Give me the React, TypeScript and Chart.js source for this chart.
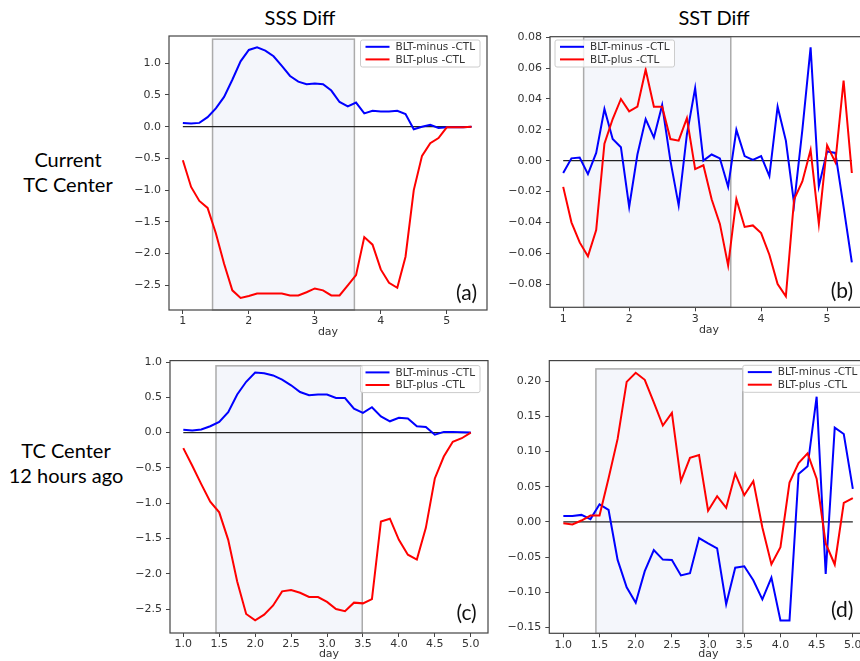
import React, { useEffect, useRef } from "react";
import { Chart, registerables } from "chart.js";

Chart.register(...registerables);

// ---------------- data ----------------
const DAYS_TOP = [
  1, 1.125, 1.25, 1.375, 1.5, 1.625, 1.75, 1.875, 2, 2.125, 2.25, 2.375, 2.5, 2.625, 2.75, 2.875,
  3, 3.125, 3.25, 3.375, 3.5, 3.625, 3.75, 3.875, 4, 4.125, 4.25, 4.375, 4.5, 4.625, 4.75, 4.875,
  5, 5.125, 5.25, 5.375,
];
const DAYS_BOTTOM = [
  1, 1.125, 1.25, 1.375, 1.5, 1.625, 1.75, 1.875, 2, 2.125, 2.25, 2.375, 2.5, 2.625, 2.75, 2.875,
  3, 3.125, 3.25, 3.375, 3.5, 3.625, 3.75, 3.875, 4, 4.125, 4.25, 4.375, 4.5, 4.625, 4.75, 4.875, 5,
];

// (a) SSS diff, current TC center
const SSS_CURRENT_MINUS = [
  0.06, 0.05, 0.06, 0.15, 0.29, 0.47, 0.74, 1.03, 1.21, 1.25, 1.2, 1.11, 0.96, 0.8, 0.71, 0.67,
  0.68, 0.67, 0.57, 0.39, 0.32, 0.38, 0.21, 0.25, 0.24, 0.24, 0.25, 0.2, -0.04, 0.0, 0.03, -0.02,
  -0.01, -0.01, -0.01, 0.0,
];
const SSS_CURRENT_PLUS = [
  -0.53, -0.95, -1.17, -1.28, -1.68, -2.16, -2.58, -2.7, -2.67, -2.63, -2.63, -2.63, -2.63, -2.66, -2.66, -2.61,
  -2.55, -2.58, -2.66, -2.66, -2.5, -2.34, -1.74, -1.86, -2.25, -2.46, -2.54, -2.05, -1.0, -0.46, -0.26, -0.18,
  -0.01, -0.01, -0.01, 0.0,
];
// (b) SST diff, current TC center
const SST_CURRENT_MINUS = [
  -0.008, 0.0015, 0.002, -0.0087, 0.005, 0.0335, 0.014, 0.0087, -0.03, 0.004, 0.027, 0.015, 0.036, 0.0, -0.029, 0.017,
  0.047, 0.0, 0.004, 0.0015, -0.017, 0.02, 0.003, 0.0005, 0.003, -0.01, 0.035, 0.013, -0.028, 0.02, 0.0735, -0.0165,
  0.006, 0.005, -0.03, -0.066,
];
const SST_CURRENT_PLUS = [
  -0.017, -0.04, -0.053, -0.062, -0.045, 0.011, 0.027, 0.04, 0.032, 0.035, 0.059, 0.035, 0.035, 0.014, 0.013, 0.0275,
  -0.0055, -0.003, -0.025, -0.041, -0.068, -0.025, -0.043, -0.042, -0.047, -0.061, -0.08, -0.088, -0.025, -0.0135, 0.007, -0.041,
  0.01, -0.001, 0.052, -0.008,
];
// (c) SSS diff, TC center 12 hours ago
const SSS_OLD_MINUS = [
  0.04, 0.03, 0.045, 0.09, 0.15, 0.29, 0.54, 0.72, 0.85, 0.84, 0.81, 0.75, 0.67, 0.575, 0.53, 0.54,
  0.54, 0.49, 0.49, 0.34, 0.28, 0.36, 0.23, 0.16, 0.21, 0.2, 0.09, 0.08, -0.03, 0.01, 0.01, 0.005, 0.0,
];
const SSS_OLD_PLUS = [
  -0.22, -0.47, -0.73, -0.98, -1.13, -1.52, -2.11, -2.57, -2.66, -2.58, -2.45, -2.25, -2.23, -2.27, -2.33, -2.33,
  -2.4, -2.5, -2.53, -2.41, -2.42, -2.36, -1.26, -1.22, -1.52, -1.73, -1.8, -1.35, -0.65, -0.34, -0.13, -0.08, 0.0,
];
// (d) SST diff, TC center 12 hours ago
const SST_OLD_MINUS = [
  0.0085, 0.0085, 0.01, 0.004, 0.025, 0.017, -0.054, -0.093, -0.115, -0.07, -0.04, -0.0535, -0.054, -0.076, -0.073, -0.023,
  -0.0305, -0.0375, -0.117, -0.065, -0.063, -0.083, -0.11, -0.079, -0.14, -0.14, 0.068, 0.079, 0.178, -0.074, 0.134, 0.125, 0.047,
];
const SST_OLD_PLUS = [
  -0.002, -0.0035, 0.002, 0.009, 0.009, 0.062, 0.118, 0.199, 0.212, 0.202, 0.17, 0.137, 0.155, 0.058, 0.091, 0.095,
  0.016, 0.0365, 0.02, 0.0685, 0.038, 0.058, -0.008, -0.06, -0.036, 0.056, 0.0835, 0.0975, 0.0615, -0.0305, -0.0605, 0.027, 0.034,
];

// tick labels
const X_TICKS_TOP = [1, 2, 3, 4, 5];
const X_TICKS_BOTTOM = [1.0, 1.5, 2.0, 2.5, 3.0, 3.5, 4.0, 4.5, 5.0];
const Y_TICKS_SSS = [-2.5, -2.0, -1.5, -1.0, -0.5, 0.0, 0.5, 1.0];
const Y_TICKS_SST_CURRENT = [-0.08, -0.06, -0.04, -0.02, 0.0, 0.02, 0.04, 0.06, 0.08];
const Y_TICKS_SST_OLD = [-0.15, -0.1, -0.05, 0.0, 0.05, 0.1, 0.15, 0.2];

// shaded windows: [start day, end day, top value]
const SHADE_A = [1.45, 3.6, 1.38];
const SHADE_B = [1.31, 3.54, 0.0802];
const SHADE_C = [1.455, 3.49, 0.946];
const SHADE_D = [1.45, 3.48, 0.2175];

const SERIES_LABELS = ["BLT-minus -CTL", "BLT-plus -CTL"];
const PANEL_TAGS = ["(a)", "(b)", "(c)", "(d)"];
const COLUMN_TITLES = ["SSS Diff", "SST Diff"];
const ROW_TITLES = [
  ["Current", "TC Center"],
  ["TC Center", "12 hours ago"],
];
const X_AXIS_TITLE = "day";

// ---------------- layout ----------------
type Spec = {
  days: number[];
  minus: number[];
  plus: number[];
  xTicks: number[];
  xDec: number;
  yTicks: number[];
  yDec: number;
  shade: number[];
  tag: string;
  canvas: { x: number; y: number; w: number; h: number };
  plot: { l: number; t: number; r: number; b: number };
  xRange: [number, number];
  yRange: [number, number];
  legend: { side: "left" | "right"; dx: number; dy: number };
  tagPos: { dx: number; dy: number };
  titlePad: number;
};

const SPECS: Spec[] = [
  {
    days: DAYS_TOP, minus: SSS_CURRENT_MINUS, plus: SSS_CURRENT_PLUS,
    xTicks: X_TICKS_TOP, xDec: 0, yTicks: Y_TICKS_SSS, yDec: 1, shade: SHADE_A, tag: PANEL_TAGS[0],
    canvas: { x: 100, y: 20, w: 400, h: 330 },
    plot: { l: 169, t: 36, r: 487, b: 310 },
    xRange: [0.79, 5.61], yRange: [-2.89, 1.43],
    legend: { side: "right", dx: 7, dy: 4 },
    tagPos: { dx: 10, dy: 17 },
    titlePad: 11.4,
  },
  {
    days: DAYS_TOP, minus: SST_CURRENT_MINUS, plus: SST_CURRENT_PLUS,
    xTicks: X_TICKS_TOP, xDec: 0, yTicks: Y_TICKS_SST_CURRENT, yDec: 2, shade: SHADE_B, tag: PANEL_TAGS[1],
    canvas: { x: 500, y: 20, w: 380, h: 330 },
    plot: { l: 550, t: 36.7, r: 868, b: 307.3 },
    xRange: [0.8, 5.62], yRange: [-0.0951, 0.0804],
    legend: { side: "left", dx: 5, dy: 3.3 },
    tagPos: { dx: 15, dy: 15.6 },
    titlePad: 13,
  },
  {
    days: DAYS_BOTTOM, minus: SSS_OLD_MINUS, plus: SSS_OLD_PLUS,
    xTicks: X_TICKS_BOTTOM, xDec: 1, yTicks: Y_TICKS_SSS, yDec: 1, shade: SHADE_C, tag: PANEL_TAGS[2],
    canvas: { x: 100, y: 350, w: 400, h: 311 },
    plot: { l: 170, t: 358, r: 488, b: 633 },
    xRange: [0.815, 5.24], yRange: [-2.84, 1.02],
    legend: { side: "right", dx: 8, dy: 5 },
    tagPos: { dx: 11.3, dy: 20 },
    titlePad: 0,
  },
  {
    days: DAYS_BOTTOM, minus: SST_OLD_MINUS, plus: SST_OLD_PLUS,
    xTicks: X_TICKS_BOTTOM, xDec: 1, yTicks: Y_TICKS_SST_OLD, yDec: 2, shade: SHADE_D, tag: PANEL_TAGS[3],
    canvas: { x: 500, y: 350, w: 380, h: 311 },
    plot: { l: 549.3, t: 358.3, r: 867.3, b: 633.3 },
    xRange: [0.806, 5.2], yRange: [-0.1583, 0.2293],
    legend: { side: "right", dx: 5, dy: 4.7 },
    tagPos: { dx: 14, dy: 23 },
    titlePad: 0,
  },
];

const TICK_FONT = { family: "'DejaVu Sans', sans-serif", size: 11 };
const TICK_COLOR = "#333333";
const TEXT_FONT = "Lato, 'Open Sans', sans-serif";

function fmt(v: number, dec: number): string {
  const s = dec === 0 ? String(Math.round(v)) : Number(v).toFixed(dec);
  return s.replace("-", "\u2212");
}

function Panel({ spec }: { spec: Spec }) {
  const ref = useRef<HTMLCanvasElement | null>(null);

  useEffect(() => {
    const canvas = ref.current;
    if (!canvas) return;
    const { canvas: cv, plot } = spec;
    const yAxisWidth = plot.l - cv.x;
    const xAxisHeight = cv.y + cv.h - plot.b;

    const decor = {
      id: "decor",
      beforeDatasetsDraw(chart: any) {
        const { ctx, chartArea, scales } = chart;
        const x0 = scales.x.getPixelForValue(spec.shade[0]);
        const x1 = scales.x.getPixelForValue(spec.shade[1]);
        const y0 = scales.y.getPixelForValue(spec.shade[2]);
        const yb = chartArea.bottom;
        ctx.save();
        ctx.fillStyle = "#f4f6fb";
        ctx.fillRect(x0, y0, x1 - x0, yb - y0);
        ctx.strokeStyle = "#ababab";
        ctx.lineWidth = 1.5;
        ctx.strokeRect(x0, y0, x1 - x0, yb - y0);
        ctx.restore();
      },
      afterDraw(chart: any) {
        const { ctx, chartArea } = chart;
        ctx.save();
        // spines
        ctx.strokeStyle = "#444444";
        ctx.lineWidth = 1.2;
        ctx.strokeRect(chartArea.left, chartArea.top, chartArea.right - chartArea.left, chartArea.bottom - chartArea.top);

        // legend
        const items = chart.data.datasets.filter((d: any) => d.label);
        ctx.font = "10.5px 'DejaVu Sans', sans-serif";
        let tw = 0;
        items.forEach((d: any) => { tw = Math.max(tw, ctx.measureText(d.label).width); });
        const boxW = 5 + 24 + 6 + tw + 5;
        const boxH = 27;
        const bx = spec.legend.side === "right" ? chartArea.right - spec.legend.dx - boxW : chartArea.left + spec.legend.dx;
        const by = chartArea.top + spec.legend.dy;
        ctx.beginPath();
        if ((ctx as any).roundRect) (ctx as any).roundRect(bx, by, boxW, boxH, 2);
        else ctx.rect(bx, by, boxW, boxH);
        ctx.fillStyle = "rgba(255,255,255,0.8)";
        ctx.fill();
        ctx.strokeStyle = "#cccccc";
        ctx.lineWidth = 1;
        ctx.stroke();
        items.forEach((d: any, i: number) => {
          const cy = by + 6.8 + i * 12.6;
          ctx.beginPath();
          ctx.moveTo(bx + 5, cy);
          ctx.lineTo(bx + 29, cy);
          ctx.strokeStyle = d.borderColor;
          ctx.lineWidth = 2;
          ctx.stroke();
          ctx.fillStyle = "#333333";
          ctx.textAlign = "left";
          ctx.textBaseline = "middle";
          ctx.fillText(d.label, bx + 35, cy + 0.5);
        });

        // panel tag
        ctx.font = `21px ${TEXT_FONT}`;
        ctx.fillStyle = "#111111";
        ctx.textAlign = "right";
        ctx.textBaseline = "middle";
        ctx.fillText(spec.tag, chartArea.right - spec.tagPos.dx, chartArea.bottom - spec.tagPos.dy);
        ctx.restore();
      },
    };

    const toPoints = (xs: number[], ys: number[]) => xs.map((x, i) => ({ x, y: ys[i] }));
    const last = spec.days[spec.days.length - 1];

    const chart = new Chart(canvas, {
      type: "line",
      data: {
        datasets: [
          {
            label: SERIES_LABELS[0],
            data: toPoints(spec.days, spec.minus),
            borderColor: "#0000ff",
            borderWidth: 2,
            pointRadius: 0,
            tension: 0,
            order: 2,
          },
          {
            label: SERIES_LABELS[1],
            data: toPoints(spec.days, spec.plus),
            borderColor: "#ff0000",
            borderWidth: 2,
            pointRadius: 0,
            tension: 0,
            order: 1,
          },
          {
            label: "",
            data: [{ x: spec.days[0], y: 0 }, { x: last, y: 0 }],
            borderColor: "#222222",
            borderWidth: 1.3,
            pointRadius: 0,
            order: 3,
          },
        ],
      } as any,
      options: {
        animation: false,
        responsive: false,
        devicePixelRatio: 1,
        layout: {
          padding: { top: plot.t - cv.y, right: cv.x + cv.w - plot.r, left: 0, bottom: 0 },
        },
        plugins: { legend: { display: false }, tooltip: { enabled: false } },
        scales: {
          x: {
            type: "linear",
            min: spec.xRange[0],
            max: spec.xRange[1],
            afterFit: (s: any) => { s.height = xAxisHeight; },
            afterBuildTicks: (s: any) => { s.ticks = spec.xTicks.map((v) => ({ value: v })); },
            ticks: {
              callback: (v: any) => fmt(Number(v), spec.xDec),
              font: TICK_FONT,
              color: TICK_COLOR,
              padding: 1,
              maxRotation: 0,
              autoSkip: false,
            },
            grid: { display: true, drawOnChartArea: false, drawTicks: true, tickLength: 4, color: "#444444", lineWidth: 1 },
            border: { display: false },
            title: {
              display: true,
              text: X_AXIS_TITLE,
              font: TICK_FONT,
              color: TICK_COLOR,
              padding: { top: 0, bottom: spec.titlePad },
            },
          },
          y: {
            type: "linear",
            min: spec.yRange[0],
            max: spec.yRange[1],
            afterFit: (s: any) => { s.width = yAxisWidth; },
            afterBuildTicks: (s: any) => { s.ticks = spec.yTicks.map((v) => ({ value: v })); },
            ticks: {
              callback: (v: any) => fmt(Number(v), spec.yDec),
              font: TICK_FONT,
              color: TICK_COLOR,
              padding: 4,
              autoSkip: false,
            },
            grid: { display: true, drawOnChartArea: false, drawTicks: true, tickLength: 4, color: "#444444", lineWidth: 1 },
            border: { display: false },
          },
        },
      } as any,
      plugins: [decor],
    });
    return () => chart.destroy();
  }, [spec]);

  return (
    <canvas
      ref={ref}
      width={spec.canvas.w}
      height={spec.canvas.h}
      style={{
        position: "absolute",
        left: spec.canvas.x,
        top: spec.canvas.y,
        width: spec.canvas.w,
        height: spec.canvas.h,
      }}
    />
  );
}

export default function App() {
  const textBase: React.CSSProperties = {
    position: "absolute",
    fontFamily: TEXT_FONT,
    fontSize: 20,
    color: "#000",
    textAlign: "center",
    whiteSpace: "nowrap",
  };
  return (
    <div
      style={{
        position: "absolute",
        left: 0,
        top: 0,
        width: 860,
        height: 661,
        overflow: "hidden",
        background: "#ffffff",
      }}
    >
      <div style={{ ...textBase, left: 200, width: 200, top: 5.3, lineHeight: "24px" }}>{COLUMN_TITLES[0]}</div>
      <div style={{ ...textBase, left: 614, width: 200, top: 5.3, lineHeight: "24px" }}>{COLUMN_TITLES[1]}</div>
      <div style={{ ...textBase, left: 0, width: 136, top: 146.8, lineHeight: "25px" }}>
        {ROW_TITLES[0][0]}
        <br />
        {ROW_TITLES[0][1]}
      </div>
      <div style={{ ...textBase, left: 0, width: 132, top: 437.8, lineHeight: "25px" }}>
        {ROW_TITLES[1][0]}
        <br />
        {ROW_TITLES[1][1]}
      </div>
      {SPECS.map((s, i) => (
        <Panel key={i} spec={s} />
      ))}
    </div>
  );
}
